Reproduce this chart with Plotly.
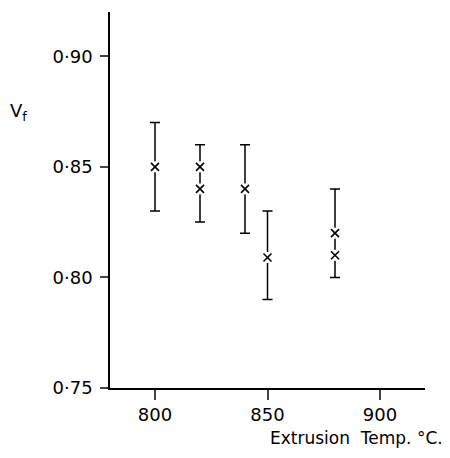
import plotly.graph_objects as go

# error bar ranges per extrusion temperature
bar_temps = [800, 820, 840, 850, 880]
bar_low = [0.83, 0.825, 0.82, 0.79, 0.80]
bar_high = [0.87, 0.86, 0.86, 0.83, 0.84]

# individual measured points (x markers)
pt_temps = [800, 820, 820, 840, 850, 880, 880]
pt_vf = [0.85, 0.85, 0.84, 0.84, 0.809, 0.82, 0.81]

y_ticks = [0.75, 0.80, 0.85, 0.90]
y_labels = ["0·75", "0·80", "0·85", "0·90"]
x_ticks = [800, 850, 900]

FONT = "DejaVu Sans"

mid = [(lo + hi) / 2 for lo, hi in zip(bar_low, bar_high)]
half = [(hi - lo) / 2 for lo, hi in zip(bar_low, bar_high)]

fig = go.Figure()

fig.add_trace(go.Scatter(
    x=bar_temps, y=mid, mode="markers",
    marker=dict(size=1, color="rgba(0,0,0,0)"),
    error_y=dict(type="data", array=half, symmetric=True,
                 color="black", thickness=1.5, width=5),
    showlegend=False, hoverinfo="skip",
))

# white patches to break the bar line around each cross
fig.add_trace(go.Scatter(
    x=pt_temps, y=pt_vf, mode="markers",
    marker=dict(symbol="square", size=11, color="white"),
    showlegend=False, hoverinfo="skip",
))

fig.add_trace(go.Scatter(
    x=pt_temps, y=pt_vf, mode="markers",
    marker=dict(symbol="x-thin", size=8, line=dict(color="black", width=1.6)),
    showlegend=False,
))

fig.update_xaxes(
    range=[780, 920], tickvals=x_ticks, ticks="outside", ticklen=10,
    tickwidth=1.5, showline=True, linecolor="black", linewidth=1.5,
    showgrid=False, zeroline=False,
    tickfont=dict(family=FONT, size=18, color="black"),
)
fig.update_yaxes(
    range=[0.75, 0.92], tickvals=y_ticks, ticktext=y_labels, ticks="outside",
    ticklen=8, tickwidth=1.5, showline=True, linecolor="black", linewidth=1.5,
    showgrid=False, zeroline=False, ticklabelstandoff=4,
    tickfont=dict(family=FONT, size=18, color="black"),
)

fig.add_annotation(
    text="V<sub>f</sub>", xref="paper", yref="paper", x=-0.292, y=0.734,
    xanchor="center", yanchor="middle", showarrow=False,
    font=dict(family=FONT, size=18, color="black"),
)
fig.add_annotation(
    text="Extrusion  Temp. °C.", xref="paper", yref="paper", x=1.065, y=-0.133,
    xanchor="right", yanchor="middle", showarrow=False,
    font=dict(family=FONT, size=17, color="black"),
)

# page body has an 8px margin, so the figure is sized to fit the window
fig.update_layout(
    width=442, height=450,
    margin=dict(l=102, r=25, t=4, b=70),
    plot_bgcolor="white", paper_bgcolor="white",
)

fig.write_html("out.html")
